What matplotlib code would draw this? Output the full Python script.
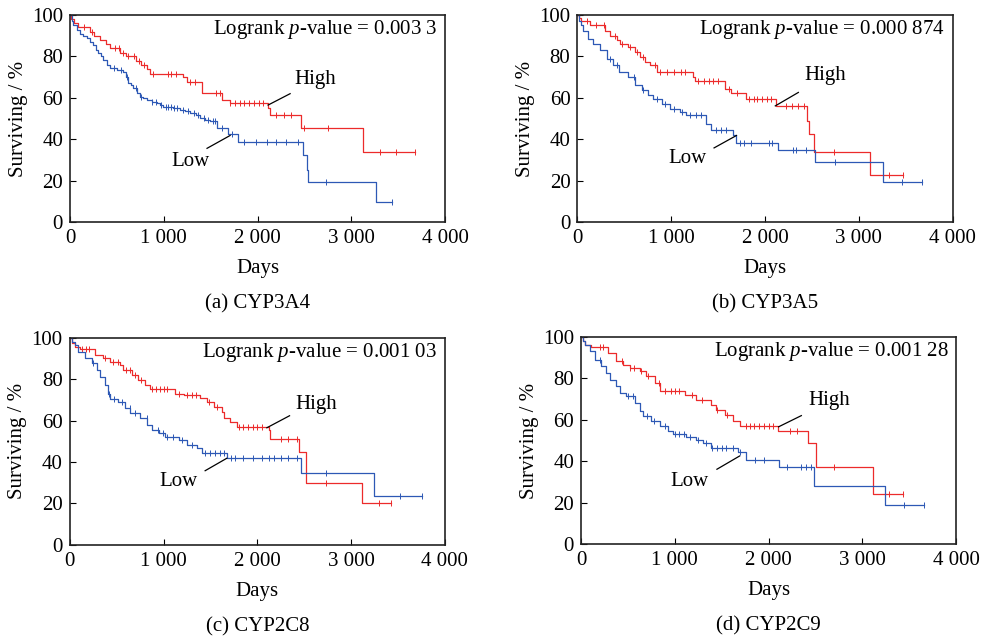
import numpy as np
import matplotlib
matplotlib.use("Agg")
from matplotlib import pyplot as plt

plt.rcParams['font.family'] = ['Liberation Serif', 'DejaVu Serif']
plt.rcParams['mathtext.fontset'] = 'custom'
plt.rcParams['mathtext.rm'] = 'Liberation Serif'
plt.rcParams['mathtext.it'] = 'Liberation Serif:italic'

# ---- data (days, surviving %) ----
a_high_t = [0, 15, 40, 89, 213, 260, 320, 380, 427, 533, 600, 700, 760, 818, 853, 1209, 1250, 1404, 1617, 1706, 2115, 2133, 2464, 3128]
a_high_s = [100, 98, 96, 94, 92, 90, 88, 86, 84, 81.5, 80, 78, 76, 74, 71.5, 70, 67.4, 62.5, 59, 57.3, 55, 51.8, 45.5, 34]
a_high_end = 3679
a_high_cens = [150, 230, 480, 520, 560, 620, 680, 740, 790, 880, 1040, 1080, 1130, 1280, 1330, 1560, 1600, 1710, 1760, 1810, 1860, 1910, 1960, 2010, 2060, 2200, 2280, 2360, 2490, 2750, 3310, 3480, 3679]

a_low_t = [0, 20, 36, 70, 107, 140, 178, 215, 249, 280, 302, 330, 355, 390, 427, 500, 569, 600, 622, 650, 676, 710, 747, 780, 818, 870, 924, 960, 995, 1100, 1173, 1230, 1280, 1340, 1386, 1440, 1493, 1564, 1689, 1795, 2488, 2524, 2542, 3260]
a_low_s = [100, 97, 95, 93, 91, 90, 88.7, 87, 85.5, 83, 81.5, 80, 78.3, 76, 74.3, 73.5, 72.7, 70, 67, 66, 64.6, 62.5, 60.6, 59.8, 59, 58, 57.4, 56.5, 55.8, 55, 54.2, 53.5, 52.6, 51.5, 50.2, 49.5, 48.6, 45.3, 42.4, 38.6, 32.5, 25.2, 19.3, 9.6]
a_low_end = 3438
a_low_cens = [470, 540, 610, 700, 760, 870, 920, 970, 1020, 1050, 1080, 1110, 1140, 1200, 1260, 1320, 1360, 1430, 1470, 1520, 1550, 1620, 1730, 1860, 1980, 2100, 2200, 2300, 2430, 2730, 3438]

b_high_t = [0, 20, 40, 135, 294, 348, 418, 454, 543, 613, 667, 720, 773, 844, 1234, 1252, 1571, 1642, 1794, 2120, 2447, 2468, 2528, 3124]
b_high_s = [100, 98.5, 97, 95.4, 92.5, 90, 87.7, 86, 84.5, 82, 79.7, 77.3, 75.7, 72.4, 70, 68, 64.4, 62.3, 59.6, 56, 49, 42.4, 33.9, 22.7]
b_high_end = 3468
b_high_cens = [100, 200, 280, 400, 480, 560, 640, 700, 830, 880, 950, 1030, 1100, 1150, 1290, 1350, 1400, 1450, 1500, 1620, 1700, 1830, 1880, 1920, 1970, 2020, 2060, 2220, 2290, 2350, 2420, 2740, 3320, 3468]

b_low_t = [0, 20, 40, 64, 117, 170, 241, 312, 383, 447, 543, 613, 684, 750, 809, 897, 986, 1092, 1163, 1376, 1429, 1660, 1695, 2138, 2535, 3255]
b_low_s = [100, 97, 95, 92.5, 88.5, 86, 83, 78.9, 75.7, 72.4, 70, 66, 63.6, 61.5, 59.6, 57.2, 54.8, 53.2, 51.6, 47.5, 44.3, 41.9, 38.2, 35, 28.9, 19.4]
b_low_end = 3670
b_low_cens = [350, 420, 600, 700, 850, 930, 1030, 1120, 1200, 1260, 1320, 1480, 1530, 1580, 1730, 1780, 1850, 2040, 2080, 2300, 2330, 2440, 2750, 3460, 3670]

c_high_t = [0, 20, 57, 110, 270, 359, 431, 537, 573, 662, 733, 804, 858, 1125, 1214, 1391, 1463, 1534, 1623, 1641, 1712, 1783, 2121, 2132, 2441, 2520, 3117]
c_high_s = [100, 97.5, 95.6, 94.3, 91.6, 90, 88.4, 86.7, 84.3, 81.9, 79.5, 77.1, 75, 73, 72.3, 70.7, 69, 66.7, 64.2, 61, 59.4, 57, 55.4, 51, 44.7, 29.7, 20]
c_high_end = 3431
c_high_cens = [130, 170, 210, 380, 460, 520, 600, 640, 700, 760, 880, 920, 960, 1000, 1040, 1160, 1250, 1300, 1350, 1480, 1570, 1800, 1850, 1900, 1950, 2000, 2050, 2250, 2330, 2420, 2730, 3300, 3431]

c_low_t = [0, 20, 57, 93, 164, 235, 288, 324, 377, 413, 431, 520, 591, 644, 751, 822, 875, 947, 1018, 1160, 1249, 1356, 1409, 1676, 2466, 3249]
c_low_s = [100, 98, 96.4, 93.2, 90, 87.6, 84.3, 81.1, 77.1, 73, 70.4, 69, 65.9, 63.5, 61, 57.8, 55.4, 53.8, 52.2, 50.6, 48.2, 46.6, 44.2, 41.8, 34.9, 23.6]
c_low_end = 3758
c_low_cens = [250, 420, 470, 560, 640, 700, 820, 940, 990, 1040, 1100, 1200, 1300, 1440, 1500, 1550, 1600, 1650, 1720, 1760, 1850, 1950, 2050, 2130, 2180, 2250, 2330, 2420, 2730, 3520, 3758]

d_high_t = [0, 20, 39, 110, 288, 377, 448, 519, 625, 696, 785, 838, 1105, 1229, 1389, 1442, 1531, 1620, 1698, 2099, 2426, 2508, 3112]
d_high_s = [100, 98, 96.3, 95.2, 92.3, 88.2, 86.6, 85, 83.4, 81, 77.7, 73.7, 72.1, 69.7, 67.3, 64.8, 62.4, 59.2, 56.8, 54.4, 48.7, 37.1, 24.2]
d_high_end = 3432
d_high_cens = [200, 230, 440, 520, 570, 640, 720, 830, 900, 960, 1000, 1050, 1180, 1290, 1450, 1560, 1760, 1800, 1850, 1900, 1950, 2000, 2050, 2230, 2300, 2700, 3290, 3432]

d_low_t = [0, 20, 39, 92, 146, 217, 270, 306, 377, 412, 483, 572, 625, 661, 750, 838, 927, 980, 1123, 1229, 1300, 1389, 1673, 1762, 2117, 2480, 3240]
d_low_s = [100, 98, 96.3, 93.1, 89, 85.8, 82.6, 79.4, 76.1, 72.9, 71.3, 68, 64, 61.6, 59.2, 56.8, 54.4, 53.2, 51.6, 50.3, 48.7, 46.3, 44.2, 40.6, 37.4, 28.1, 18.9]
d_low_end = 3662
d_low_cens = [200, 500, 560, 700, 780, 900, 1000, 1050, 1100, 1160, 1250, 1330, 1400, 1450, 1500, 1550, 1620, 1700, 1860, 1950, 2200, 2350, 2400, 2450, 3440, 3662]

captions = ["(a) CYP3A4", "(b) CYP3A5", "(c) CYP2C8", "(d) CYP2C9"]
pvalues = ["0.003 3", "0.000 874", "0.001 03", "0.001 28"]
xticks = [0, 1000, 2000, 3000, 4000]
xticklabels = ["0", "1 000", "2 000", "3 000", "4 000"]
yticks = [0, 20, 40, 60, 80, 100]

panels = [
    (a_high_t, a_high_s, a_high_end, a_high_cens, a_low_t, a_low_s, a_low_end, a_low_cens),
    (b_high_t, b_high_s, b_high_end, b_high_cens, b_low_t, b_low_s, b_low_end, b_low_cens),
    (c_high_t, c_high_s, c_high_end, c_high_cens, c_low_t, c_low_s, c_low_end, c_low_cens),
    (d_high_t, d_high_s, d_high_end, d_high_cens, d_low_t, d_low_s, d_low_end, d_low_cens),
]

# label positions (days, %): text, line start, line end
high_lbl = [((2613, 69), (2347, 62), (2112, 56.5)),
            ((2646, 70.6), (2356, 62.6), (2110, 56.1)),
            ((2629, 67.5), (2344, 62.3), (2102, 56.5)),
            ((2651, 69.3), (2350, 62), (2108, 56.6))]
low_lbl = [((1280, 29), (1461, 35.6), (1707, 41.8)),
           ((1170, 30.7), (1457, 35.8), (1696, 41.8)),
           ((1159, 30.5), (1444, 35.8), (1675, 41.8)),
           ((1159, 30.1), (1450, 36.1), (1692, 42.5))]

RED = '#ec2b2b'
BLUE = '#2d58b5'
FS = 15

fig = plt.figure(figsize=(9.82, 6.36), dpi=100)
rects = [[0.0713, 0.6509, 0.382, 0.3255],
         [0.5880, 0.6509, 0.382, 0.3255],
         [0.0710, 0.1431, 0.382, 0.3262],
         [0.5916, 0.1447, 0.382, 0.3255]]


def km(ax, t, s, end, cens, color):
    tt = list(t) + [end]
    ss = list(s) + [s[-1]]
    ax.plot(tt, ss, drawstyle='steps-post', color=color, lw=0.9)
    idx = np.searchsorted(np.array(t), np.array(cens), side='right') - 1
    ax.plot(cens, np.array(s)[idx], linestyle='none', marker='|',
            markersize=4, markeredgewidth=0.7, color=color)


for i in range(4):
    ax = fig.add_axes(rects[i])
    ht, hs, he, hc, lt, ls, le, lc = panels[i]
    km(ax, ht, hs, he, hc, RED)
    km(ax, lt, ls, le, lc, BLUE)

    ax.set_xlim(0, 4000)
    ax.set_ylim(0, 100)
    ax.set_xticks(xticks)
    ax.set_xticklabels(xticklabels)
    ax.set_yticks(yticks)
    ax.tick_params(direction='in', length=4, width=0.8, labelsize=FS, pad=5)
    for sp in ax.spines.values():
        sp.set_linewidth(1.2)
        sp.set_color('#222222')
    ax.set_xlabel('Days', fontsize=FS, labelpad=8)
    ax.set_ylabel('Surviving / %', fontsize=FS, labelpad=3)

    ax.text(0.98, 0.93, 'Logrank $\\it{p}$-value = ' + pvalues[i],
            transform=ax.transAxes, ha='right', va='center', fontsize=FS)

    txt, p0, p1 = high_lbl[i]
    ax.text(txt[0], txt[1], 'High', ha='center', va='center', fontsize=FS)
    ax.plot([p0[0], p1[0]], [p0[1], p1[1]], color='black', lw=0.9)
    txt, p0, p1 = low_lbl[i]
    ax.text(txt[0], txt[1], 'Low', ha='center', va='center', fontsize=FS)
    ax.plot([p0[0], p1[0]], [p0[1], p1[1]], color='black', lw=0.9)

    ax.text(0.5, -0.395, captions[i], transform=ax.transAxes,
            ha='center', va='center', fontsize=FS)

fig.savefig('out.png', dpi=100)
